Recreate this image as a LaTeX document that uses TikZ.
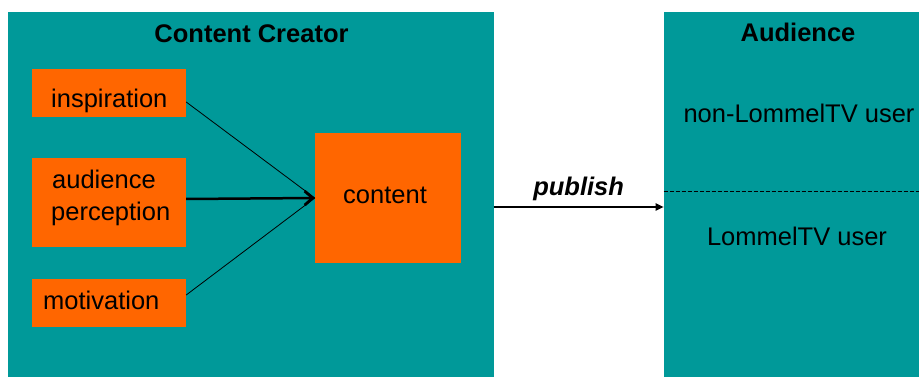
\documentclass[tikz,border=0pt]{standalone}
\usepackage{fontspec}
\setmainfont{Liberation Sans}
\usetikzlibrary{arrows.meta}
\definecolor{tealbg}{RGB}{0,153,153}
\definecolor{orangebox}{RGB}{255,102,0}
\begin{document}
\begin{tikzpicture}[x=1pt,y=-1pt,
  panel/.style={fill=tealbg,draw=none},
  obox/.style={fill=orangebox,draw=none},
  txt/.style={inner sep=0pt,font=\fontsize{25.5}{29}\selectfont},
  btxt/.style={inner sep=0pt,font=\fontsize{25.5}{29}\selectfont\bfseries},
  thin/.style={line width=0.8pt,black},
  thick/.style={line width=2.5pt,black}]
\useasboundingbox (0,0) rectangle (919,377);
\fill[white] (0,0) rectangle (919,377);
% panels
\path[panel] (8,12) rectangle (493.5,377);
\coordinate (ccR) at (493.5,207);
\path[panel] (663.7,12) rectangle (919,377);
\coordinate (audL) at (663.7,207);
\coordinate (dashL) at (663.7,191);
\coordinate (dashR) at (919,191);
% orange boxes
\node[obox,minimum width=154pt,minimum height=48pt,inner sep=0pt] (insp) at (109,93) {};
\node[obox,minimum width=154pt,minimum height=89pt,inner sep=0pt] (aud) at (109,202.5) {};
\node[obox,minimum width=154pt,minimum height=48pt,inner sep=0pt] (mot) at (109,303) {};
\node[obox,minimum width=146pt,minimum height=130pt,inner sep=0pt] (cont) at (388,198) {};
% texts
\node[btxt,anchor=base] (tcc) at (251.5,43) {Content Creator};
\node[txt,anchor=base west] (tinsp) at (51,108) {inspiration};
\node[txt,anchor=base west] (taud1) at (52,189) {audience};
\node[txt,anchor=base west] (taud2) at (51,220) {perception};
\node[txt,anchor=base west] (tmot) at (43,309) {motivation};
\node[txt,anchor=base west] (tcont) at (343,204) {content};
\node[btxt,anchor=base] (tad) at (798,42) {Audience};
\node[txt,anchor=base] (tnon) at (799,123) {non-LommelTV user};
\node[txt,anchor=base] (tlom) at (797,245) {LommelTV user};
% connectors
\draw[thin] (insp.east |- 0,102) -- (cont.west);
\draw[thin] (mot.east |- 0,295) -- (cont.west);
\draw[thick,-{Straight Barb[length=8pt,width=14pt,line width=2.8pt]}] (aud.east |- 0,199) -- (cont.west);
\draw[line width=1.8pt,-{Triangle[length=8pt,width=7pt]}] (ccR) -- node[above=5pt,inner sep=0pt,font=\fontsize{25.5}{29}\selectfont\bfseries\itshape] (tpub) {publish} (audL);
\draw[line width=0.8pt,dash pattern=on 4pt off 2pt] (dashL) -- (dashR);
\end{tikzpicture}
\end{document}
